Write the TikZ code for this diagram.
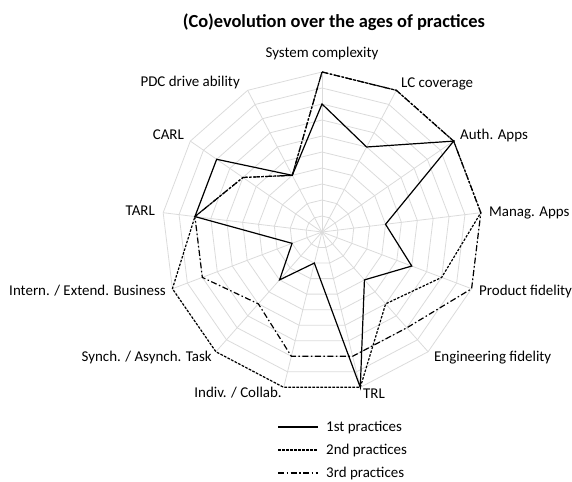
\documentclass[tikz,border=0pt]{standalone}
\usepackage{fontspec}
\setmainfont{Carlito}
\begin{document}
\begin{tikzpicture}[x=1bp,y=1bp,
  font=\fontsize{15}{18}\selectfont,
  gridline/.style={draw=black!14, line width=0.8bp},
  s1/.style={draw=black, line width=1.2bp, line join=miter},
  s2/.style={draw=black, line width=1.2bp, dash pattern=on 2.5bp off 1.5bp},
  s3/.style={draw=black, line width=1.2bp, dash pattern=on 6bp off 2.5bp on 1.5bp off 2.5bp},
  lab/.style={inner sep=0pt},
  ttl/.style={inner sep=0pt, font=\fontsize{18.5}{22}\selectfont\bfseries}]
\useasboundingbox (-322,-250) rectangle (250,232);
% grid rings
\foreach \k in {1,...,10}
  \draw[gridline] (90:\k*16) \foreach \i in {1,...,12} { -- ({90-\i*360/13}:\k*16) } -- cycle;
% spokes
\coordinate (O) at (0,0);
\foreach \i in {0,...,12} {
  \coordinate (ax\i) at ({90-\i*360/13}:160);
  \draw[gridline] (O) -- (ax\i);
}
% series points
\foreach \v [count=\i from 0] in {0.8,0.6,1,0.4,0.6,0.4,1,0.2,0.4,0.2,0.8,0.8,0.4}
  \coordinate (A\i) at ({90-\i*360/13}:{\v*160});
\foreach \v [count=\i from 0] in {1,1,1,1,0.8,0.6,1,1,1,1,0.8,0.6,0.4}
  \coordinate (B\i) at ({90-\i*360/13}:{\v*160});
\foreach \v [count=\i from 0] in {1,1,1,1,1,0.8,0.8,0.8,0.6,0.8,0.8,0.6,0.4}
  \coordinate (C\i) at ({90-\i*360/13}:{\v*160});
\draw[s3] (C0)--(C1)--(C2)--(C3)--(C4)--(C5)--(C6)--(C7)--(C8)--(C9)--(C10)--(C11)--(C12)--cycle;
\draw[s2] (B0)--(B1)--(B2)--(B3)--(B4)--(B5)--(B6)--(B7)--(B8)--(B9)--(B10)--(B11)--(B12)--cycle;
\draw[s1] (A0)--(A1)--(A2)--(A3)--(A4)--(A5)--(A6)--(A7)--(A8)--(A9)--(A10)--(A11)--(A12)--cycle;
% axis labels
\node[lab, anchor=base] (l0) at (0,174) {System complexity};
\node[lab, anchor=base west] (l1) at (79,144) {LC coverage};
\node[lab, anchor=base west] (l2) at (138,92) {Auth. Apps};
\node[lab, anchor=base west] (l3) at (167,15) {Manag. Apps};
\node[lab, anchor=base west] (l4) at (157,-64) {Product fidelity};
\node[lab, anchor=base west] (l5) at (112,-130) {Engineering fidelity};
\node[lab, anchor=base west] (l6) at (41,-167) {TRL};
\node[lab, anchor=base east] (l7) at (-40,-166) {Indiv. / Collab.};
\node[lab, anchor=base east] (l8) at (-110,-130) {Synch. / Asynch. Task};
\node[lab, anchor=base east] (l9) at (-156,-64) {Intern. / Extend. Business};
\node[lab, anchor=base east] (l10) at (-167,16) {TARL};
\node[lab, anchor=base east] (l11) at (-138,92) {CARL};
\node[lab, anchor=base east] (l12) at (-82,145) {PDC drive ability};
% title
\node[ttl, anchor=base] (title) at (12,204) {(Co)evolution over the ages of practices};
% legend
\coordinate (k1a) at (-44,-195); \coordinate (k1b) at (-4,-195);
\coordinate (k2a) at (-44,-218); \coordinate (k2b) at (-4,-218);
\coordinate (k3a) at (-44,-241); \coordinate (k3b) at (-4,-241);
\draw[s1] (k1a) -- (k1b);
\draw[s2] (k2a) -- (k2b);
\draw[s3] (k3a) -- (k3b);
\node[lab, anchor=base west] (t1) at (4,-199.5) {1st practices};
\node[lab, anchor=base west] (t2) at (4,-222.5) {2nd practices};
\node[lab, anchor=base west] (t3) at (4,-245.5) {3rd practices};
\end{tikzpicture}
\end{document}
